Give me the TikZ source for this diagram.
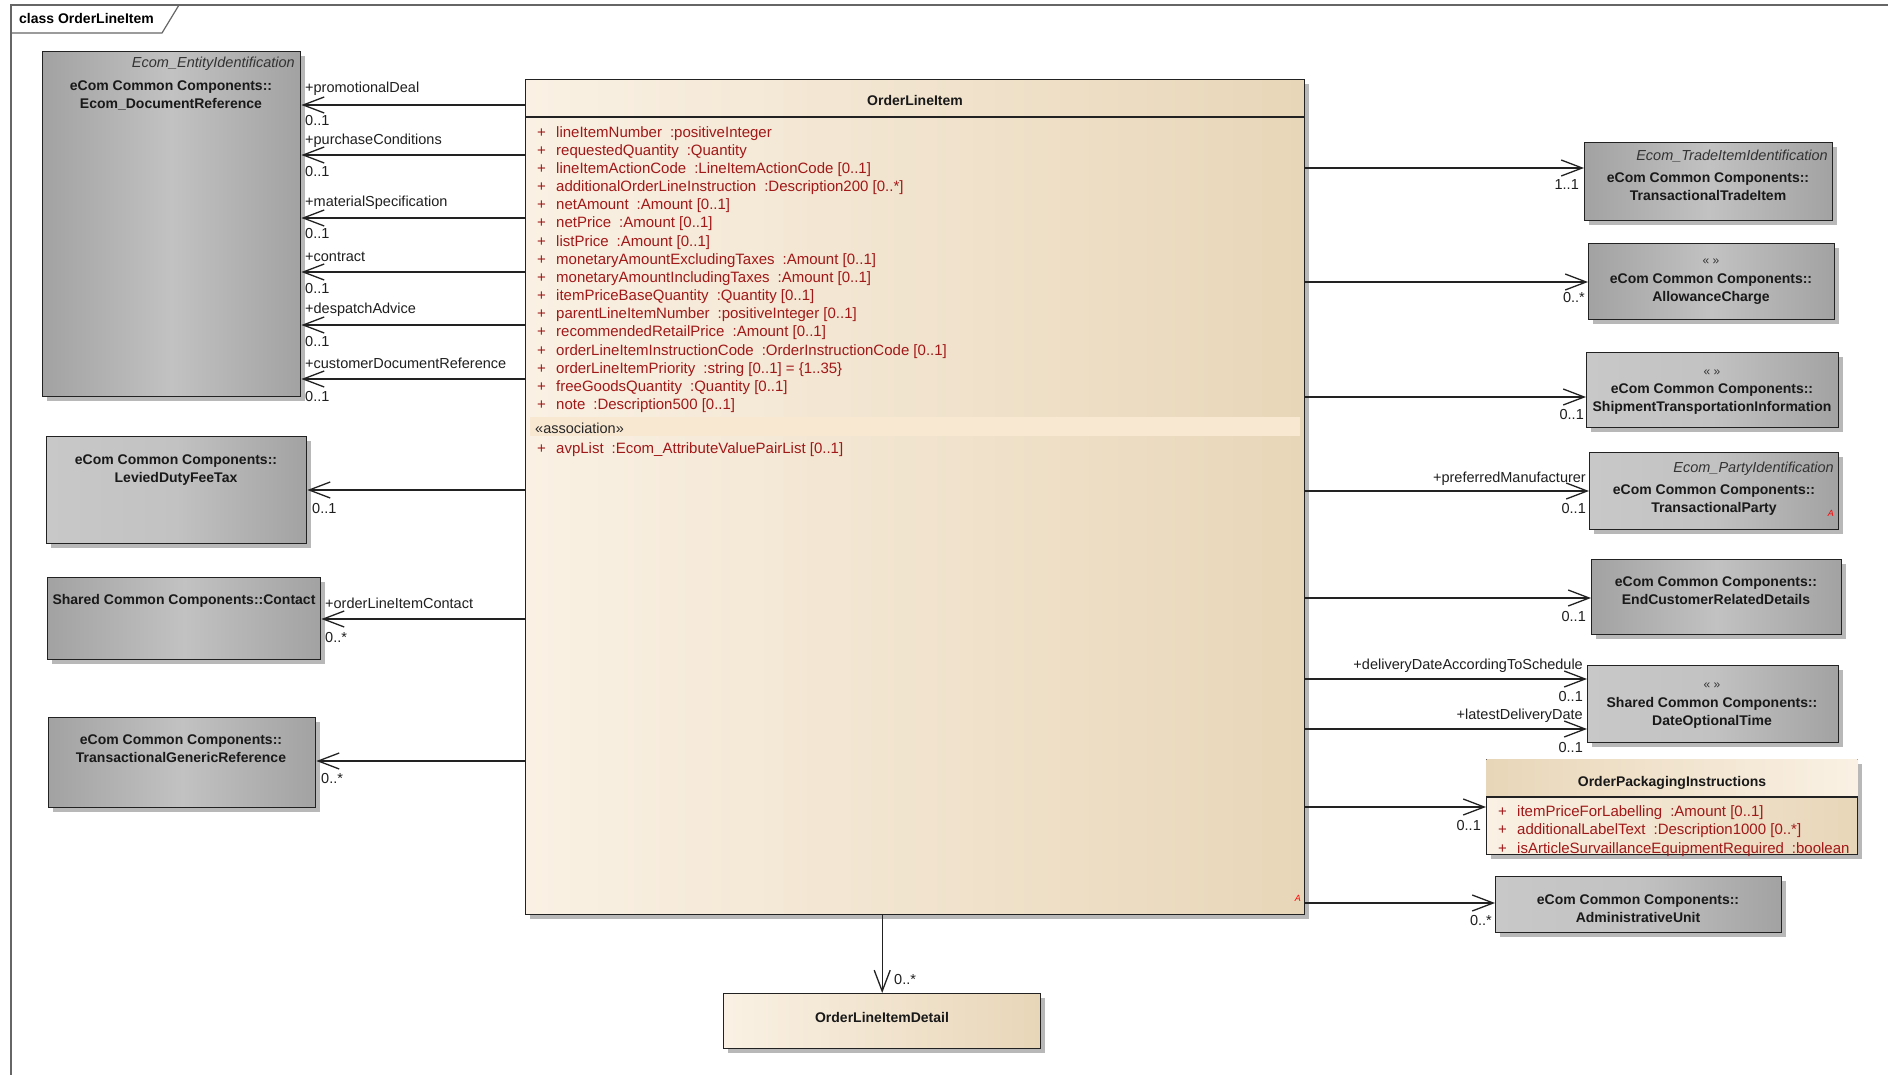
\documentclass[tikz,border=0pt]{standalone}
\usepackage{fontspec}
\setmainfont{Liberation Sans}
\usetikzlibrary{arrows.meta,shadows}
\definecolor{attrred}{RGB}{160,24,24}
\definecolor{creamL}{HTML}{FAF1E4}
\definecolor{creamR}{HTML}{E8D6B8}
\definecolor{bandc}{HTML}{F8E8D2}
\definecolor{gEdge}{HTML}{A2A2A2}
\definecolor{gMid}{HTML}{C2C2C2}
\definecolor{gLite}{HTML}{C8C8C8}
\definecolor{lineC}{HTML}{222222}
\definecolor{frameC}{HTML}{666666}
\newcommand\tsep{\hspace{8pt}}
\newcommand\pl{\makebox[19pt][l]{+}}
\begin{document}
\begin{tikzpicture}[x=1pt,y=-1pt,
  boxbase/.style={rectangle, draw=lineC, line width=1.4pt, inner sep=0pt, anchor=north west,
    drop shadow={shadow xshift=4pt,shadow yshift=-4pt,fill=black!28,opacity=1}},
  gdark/.style={boxbase, left color=gEdge, right color=gEdge, middle color=gMid},
  glight/.style={boxbase, left color=gLite, right color=gEdge, middle color=gMid},
  cream/.style={boxbase, left color=creamL, right color=creamR},
  cname/.style={font=\fontsize{14}{18}\selectfont\bfseries, align=center, inner sep=0pt, anchor=base, text=black!90},
  stereo/.style={font=\fontsize{14.5}{18}\selectfont\itshape, inner sep=0pt, anchor=base east, text=black!80},
  lbl/.style={font=\fontsize{14.5}{18}\selectfont, inner sep=0pt, text=black!88},
  lblL/.style={lbl, anchor=base west},
  lblR/.style={lbl, anchor=base east},
  attr/.style={font=\fontsize{15}{18.18}\selectfont, inner sep=0pt, anchor=base west, align=left, text=attrred},
  assoc/.style={draw=lineC, line width=1.3pt, -{Straight Barb[length=21pt,width=16pt]}},
  guil/.style={font=\fontsize{12}{13}\selectfont, inner sep=0pt, anchor=base, text=black!80},
  tag/.style={font=\fontsize{9}{10}\selectfont\itshape, inner sep=0pt, anchor=base east, text=red},
  framec/.style={draw=frameC, line width=1.2pt},
]
\useasboundingbox (0,0) rectangle (1888,1075);
\fill[white] (0,0) rectangle (1888,1075);

% frame
\draw[framec] (11,1075) -- (11,5) -- (1888,5);
\draw[framec] (11,33) -- (162,33) -- (179,5);
\node[font=\fontsize{14}{18}\selectfont\bfseries, inner sep=0pt, anchor=base west] (frt) at (19,24) {class OrderLineItem};

% main class
\node[cream, minimum width=779pt, minimum height=835pt] (oli) at (525,79) {};
\draw[draw=lineC, line width=1.4pt] ([yshift=-38pt]oli.north west) -- ([yshift=-38pt]oli.north east);
\node[cname] (olit) at (915,106) {OrderLineItem};
\node[attr] (olia) at (537,409.7) {%
\pl lineItemNumber\tsep:positiveInteger\\
\pl requestedQuantity\tsep:Quantity\\
\pl lineItemActionCode\tsep:LineItemActionCode [0..1]\\
\pl additionalOrderLineInstruction\tsep:Description200 [0..*]\\
\pl netAmount\tsep:Amount [0..1]\\
\pl netPrice\tsep:Amount [0..1]\\
\pl listPrice\tsep:Amount [0..1]\\
\pl monetaryAmountExcludingTaxes\tsep:Amount [0..1]\\
\pl monetaryAmountIncludingTaxes\tsep:Amount [0..1]\\
\pl itemPriceBaseQuantity\tsep:Quantity [0..1]\\
\pl parentLineItemNumber\tsep:positiveInteger [0..1]\\
\pl recommendedRetailPrice\tsep:Amount [0..1]\\
\pl orderLineItemInstructionCode\tsep:OrderInstructionCode [0..1]\\
\pl orderLineItemPriority\tsep:string [0..1] = \{1..35\}\\
\pl freeGoodsQuantity\tsep:Quantity [0..1]\\
\pl note\tsep:Description500 [0..1]};
\fill[bandc] (530,417) rectangle (1300,436);
\node[lblL, text=black!85] (olis) at (535,433) {«association»};
\node[attr] (oliv) at (537,453) {\pl avpList\tsep:Ecom\_AttributeValuePairList [0..1]};
\node[tag] (olitag) at (1301,901) {A};

% left classes
\node[gdark, minimum width=258pt, minimum height=345pt] (doc) at (42,51) {};
\node[stereo] (docs) at (295,68) {Ecom\_EntityIdentification};
\node[cname] (doct) at (171,109) {eCom Common Components::\\Ecom\_DocumentReference};

\node[glight, minimum width=260pt, minimum height=107pt] (lev) at (46,436) {};
\node[cname] (levt) at (176,482) {eCom Common Components::\\LeviedDutyFeeTax};

\node[gdark, minimum width=273pt, minimum height=82pt] (con) at (47,577) {};
\node[cname] (cont) at (184,604) {Shared Common Components::Contact};

\node[gdark, minimum width=267pt, minimum height=90pt] (tgr) at (48,717) {};
\node[cname] (tgrt) at (181,762) {eCom Common Components::\\TransactionalGenericReference};

% right classes
\node[gdark, minimum width=248pt, minimum height=78pt] (tti) at (1584,142) {};
\node[stereo] (ttis) at (1828,161) {Ecom\_TradeItemIdentification};
\node[cname] (ttit) at (1708,201) {eCom Common Components::\\TransactionalTradeItem};

\node[gdark, minimum width=246pt, minimum height=76pt] (ac) at (1588,243) {};
\node[guil] (acs) at (1711,265) {« »};
\node[cname] (act) at (1711,302) {eCom Common Components::\\AllowanceCharge};

\node[glight, minimum width=252pt, minimum height=75pt] (sti) at (1586,352) {};
\node[guil] (stis) at (1712,375) {« »};
\node[cname] (stit) at (1712,411) {eCom Common Components::\\ShipmentTransportationInformation};

\node[glight, minimum width=249pt, minimum height=77pt] (tp) at (1589,452) {};
\node[stereo] (tps) at (1834,472) {Ecom\_PartyIdentification};
\node[cname] (tpt) at (1714,512) {eCom Common Components::\\TransactionalParty};
\node[tag] (tptag) at (1834,516) {A};

\node[gdark, minimum width=250pt, minimum height=75pt] (ecr) at (1591,559) {};
\node[cname] (ecrt) at (1716,604) {eCom Common Components::\\EndCustomerRelatedDetails};

\node[glight, minimum width=251pt, minimum height=77pt] (dot) at (1587,665) {};
\node[guil] (dots) at (1712,688) {« »};
\node[cname] (dott) at (1712,725) {Shared Common Components::\\DateOptionalTime};

\node[cream, minimum width=371pt, minimum height=95pt] (opi) at (1486,759) {};
\fill[left color=creamR, right color=creamL] ([shift={(0.7pt,-0.7pt)}]opi.north west) rectangle ([yshift=-38pt, xshift=-0.7pt]opi.north east);
\draw[draw=lineC, line width=1.4pt] ([yshift=-38pt]opi.north west) -- ([yshift=-38pt]opi.north east);
\node[cname] (opit) at (1672,786) {OrderPackagingInstructions};
\node[attr] (opia) at (1498,853) {%
\pl itemPriceForLabelling\tsep:Amount [0..1]\\
\pl additionalLabelText\tsep:Description1000 [0..*]\\
\pl isArticleSurvaillanceEquipmentRequired\tsep:boolean};

\node[glight, minimum width=286pt, minimum height=56pt] (au) at (1495,876) {};
\node[cname] (aut) at (1638,922) {eCom Common Components::\\AdministrativeUnit};

% bottom class
\node[cream, minimum width=317pt, minimum height=55pt] (old) at (723,993) {};
\node[cname] (oldt) at (882,1022) {OrderLineItemDetail};

% connectors left
\draw[assoc] (oli.west |- 0,105) -- (doc.east |- 0,105);
\draw[assoc] (oli.west |- 0,155) -- (doc.east |- 0,155);
\draw[assoc] (oli.west |- 0,218) -- (doc.east |- 0,218);
\draw[assoc] (oli.west |- 0,272) -- (doc.east |- 0,272);
\draw[assoc] (oli.west |- 0,325) -- (doc.east |- 0,325);
\draw[assoc] (oli.west |- 0,379) -- (doc.east |- 0,379);
\node[lblL] (r1) at (305,93) {+promotionalDeal};
\node[lblL] (m1) at (305,126) {0..1};
\node[lblL] (r2) at (305,145) {+purchaseConditions};
\node[lblL] (m2) at (305,177) {0..1};
\node[lblL] (r3) at (305,207) {+materialSpecification};
\node[lblL] (m3) at (305,239) {0..1};
\node[lblL] (r4) at (305,262) {+contract};
\node[lblL] (m4) at (305,294) {0..1};
\node[lblL] (r5) at (305,314) {+despatchAdvice};
\node[lblL] (m5) at (305,347) {0..1};
\node[lblL] (r6) at (305,369) {+customerDocumentReference};
\node[lblL] (m6) at (305,401) {0..1};

\draw[assoc] (oli.west |- 0,490) -- (lev.east |- 0,490);
\node[lblL] (m7) at (312,513) {0..1};
\draw[assoc] (oli.west |- 0,619) -- (con.east |- 0,619);
\node[lblL] (r8) at (325,608) {+orderLineItemContact};
\node[lblL] (m8) at (325,642) {0..*};
\draw[assoc] (oli.west |- 0,761) -- (tgr.east |- 0,761);
\node[lblL] (m9) at (321,783) {0..*};

% connectors right
\draw[assoc] (oli.east |- 0,168) -- (tti.west |- 0,168);
\node[lblR] (m10) at (1579,190) {1..1};
\draw[assoc] (oli.east |- 0,282) -- (ac.west |- 0,282);
\node[lblR] (m11) at (1585,303) {0..*};
\draw[assoc] (oli.east |- 0,397) -- (sti.west |- 0,397);
\node[lblR] (m12) at (1584,419) {0..1};
\draw[assoc] (oli.east |- 0,491) -- (tp.west |- 0,491);
\node[lblR] (r13) at (1586,482) {+preferredManufacturer};
\node[lblR] (m13) at (1586,513) {0..1};
\draw[assoc] (oli.east |- 0,598) -- (ecr.west |- 0,598);
\node[lblR] (m14) at (1586,621) {0..1};
\draw[assoc] (oli.east |- 0,679) -- (dot.west |- 0,679);
\node[lblR] (r15) at (1583,669) {+deliveryDateAccordingToSchedule};
\node[lblR] (m15) at (1583,701) {0..1};
\draw[assoc] (oli.east |- 0,729) -- (dot.west |- 0,729);
\node[lblR] (r16) at (1583,719) {+latestDeliveryDate};
\node[lblR] (m16) at (1583,752) {0..1};
\draw[assoc] (oli.east |- 0,807) -- (opi.west |- 0,807);
\node[lblR] (m17) at (1481,830) {0..1};
\draw[assoc] (oli.east |- 0,903) -- (au.west |- 0,903);
\node[lblR] (m18) at (1492,925) {0..*};

% connector bottom
\draw[assoc] (oli.south -| old.north) -- (old.north);
\node[lblL] (m19) at (894,984) {0..*};
\end{tikzpicture}
\end{document}
